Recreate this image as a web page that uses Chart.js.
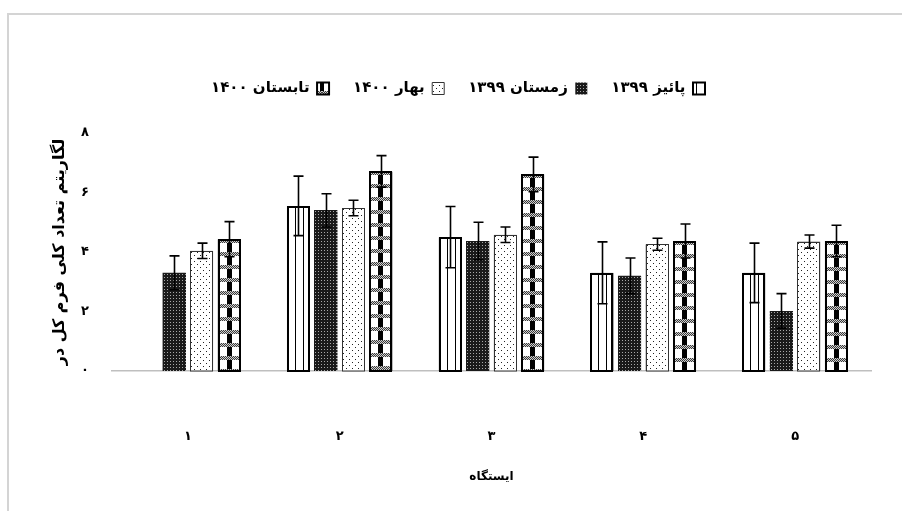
<!DOCTYPE html>
<html>
<head>
<meta charset="utf-8">
<script src="https://cdn.jsdelivr.net/npm/chart.js@4.4.1/dist/chart.umd.min.js"></script>
<style>
  body { margin: 0; background: #fff; }
  #wrap { position: relative; width: 902px; height: 511px; }
  #frame { position: absolute; left: 7px; top: 13px; right: 0; bottom: 0;
           border-left: 2px solid #d4d4d4; border-top: 2px solid #d4d4d4; }
  canvas { position: absolute; left: 0; top: 0; }
</style>
</head>
<body>
<div id="wrap">
  <div id="frame"></div>
  <canvas id="chart" width="902" height="511"></canvas>
</div>
<script>
// داده ها
const categories = ["۱", "۲", "۳", "۴", "۵"];
const seriesNames = ["پائیز ۱۳۹۹", "زمستان ۱۳۹۹", "بهار ۱۴۰۰", "تابستان ۱۴۰۰"];
const paiz = [null, 5.55, 4.5, 3.3, 3.3];
const paizErr = [0, 1.0, 1.03, 1.04, 1.0];
const zemestan = [3.3, 5.4, 4.37, 3.2, 2.02];
const zemestanErr = [0.57, 0.56, 0.63, 0.6, 0.58];
const bahar = [4.04, 5.48, 4.58, 4.26, 4.35];
const baharErr = [0.26, 0.26, 0.26, 0.2, 0.22];
const tabestan = [4.43, 6.71, 6.61, 4.37, 4.37];
const tabestanErr = [0.59, 0.53, 0.58, 0.57, 0.53];
const yTicks = ["۰", "۲", "۴", "۶", "۸"];

const FONT = "'DejaVu Sans', sans-serif";

// الگوها
function makePattern(w, h, draw) {
  const c = document.createElement("canvas");
  c.width = w; c.height = h;
  const g = c.getContext("2d");
  draw(g);
  return document.getElementById("chart").getContext("2d").createPattern(c, "repeat");
}

// پائیز: خطوط عمودی
const pPaiz = makePattern(8, 8, g => {
  g.fillStyle = "#fff"; g.fillRect(0, 0, 8, 8);
  g.fillStyle = "#000"; g.fillRect(0, 0, 1, 8);
});
// زمستان: تیره با نقطه های ریز
const pZemestan = makePattern(3, 3, g => {
  g.fillStyle = "#1a1a1a"; g.fillRect(0, 0, 3, 3);
  g.fillStyle = "#a8a8a8"; g.fillRect(1, 1, 1, 1);
});
// بهار: نقطه های پراکنده
const pBahar = makePattern(6, 6, g => {
  g.fillStyle = "#fff"; g.fillRect(0, 0, 6, 6);
  g.fillStyle = "#222"; g.fillRect(1, 1, 1, 1); g.fillRect(4, 4, 1, 1);
});
// تابستان: شطرنجی
const pTabestan = makePattern(23, 13, g => {
  g.fillStyle = "#fff"; g.fillRect(0, 0, 23, 13);
  for (let x = 0; x < 23; x++) {
    for (let y = 0; y < 4; y++) {
      g.fillStyle = (x + y) % 2 ? "#3a3a3a" : "#cfcfcf";
      g.fillRect(x, y, 1, 1);
    }
  }
  g.fillStyle = "#000"; g.fillRect(9, 4, 5, 9);
  g.fillRect(0, 4, 2, 9); g.fillRect(21, 4, 2, 9);
});

const errors = [paizErr, zemestanErr, baharErr, tabestanErr];
const patterns = [pPaiz, pZemestan, pBahar, pTabestan];

// پرکردن هر ستون با الگوی هم تراز با خود ستون
const barFill = {
  id: "barFill",
  afterDatasetDraw(chart, args) {
    const ctx = chart.ctx;
    const i = args.index;
    const ds = chart.data.datasets[i];
    args.meta.data.forEach((el, j) => {
      if (ds.data[j] == null) return;
      const left = Math.round(el.x - el.width / 2);
      const top = Math.round(el.y);
      const w = Math.round(el.width);
      const h = Math.round(el.base) - top;
      ctx.save();
      ctx.translate(left, top);
      ctx.fillStyle = patterns[i];
      ctx.fillRect(0, 0, w, h);
      if (ds.borderWidth > 0) {
        const b = ds.borderWidth;
        ctx.strokeStyle = ds.borderColor;
        ctx.lineWidth = b;
        ctx.strokeRect(b / 2, b / 2, w - b, h - b / 2);
      }
      ctx.restore();
    });
  }
};

// خطای معیار
const errorBars = {
  id: "errorBars",
  afterDatasetsDraw(chart) {
    const ctx = chart.ctx;
    const y = chart.scales.y;
    chart.data.datasets.forEach((ds, i) => {
      const meta = chart.getDatasetMeta(i);
      meta.data.forEach((el, j) => {
        const v = ds.data[j];
        if (v == null) return;
        const e = errors[i][j];
        const yTop = y.getPixelForValue(v + e);
        const yBot = y.getPixelForValue(v - e);
        const x = Math.round(el.x) + 0.5;
        ctx.save();
        ctx.strokeStyle = "#000";
        ctx.lineWidth = 1.6;
        ctx.beginPath();
        ctx.moveTo(x, yTop); ctx.lineTo(x, yBot);
        ctx.moveTo(x - 5, yTop); ctx.lineTo(x + 5, yTop);
        ctx.moveTo(x - 5, yBot); ctx.lineTo(x + 5, yBot);
        ctx.stroke();
        ctx.restore();
      });
    });
  }
};

// فاصله زیر راهنما و جابجایی آن
const legendGap = {
  id: "legendGap",
  beforeInit(chart) {
    const fit = chart.legend.fit;
    chart.legend.fit = function () {
      fit.bind(chart.legend)();
      this.height += 27;
    };
  },
  afterUpdate(chart) {
    const lg = chart.legend;
    if (!lg.legendHitBoxes || !lg.legendHitBoxes.length) return;
    const minLeft = Math.min(...lg.legendHitBoxes.map(b => b.left));
    const shift = 211 - minLeft;
    lg.left += shift;
    lg.right += shift;
    lg.adjustHitBoxes();
  }
};

const barChart = document.querySelector("#chart");

new Chart(barChart, {
  type: "bar",
  data: {
    labels: categories,
    datasets: [
      { label: seriesNames[0], data: paiz, backgroundColor: pPaiz, borderColor: "#000", borderWidth: 2 },
      { label: seriesNames[1], data: zemestan, backgroundColor: pZemestan, borderColor: "#1a1a1a", borderWidth: 0 },
      { label: seriesNames[2], data: bahar, backgroundColor: pBahar, borderColor: "#333", borderWidth: 1 },
      { label: seriesNames[3], data: tabestan, backgroundColor: pTabestan, borderColor: "#000", borderWidth: 2 },
    ],
  },
  options: {
    animation: false,
    responsive: false,
    devicePixelRatio: 1,
    categoryPercentage: 0.725,
    barPercentage: 0.84,
    layout: { padding: { top: 57, left: 40, right: 31, bottom: 12 } },
    plugins: {
      legend: {
        position: "top",
        rtl: true,
        labels: {
          boxWidth: 12,
          boxHeight: 12,
          padding: 24,
          color: "#000",
          font: { family: FONT, size: 15, weight: "bold" },
        },
      },
      tooltip: { enabled: false },
    },
    scales: {
      x: {
        grid: { display: false, drawTicks: false },
        border: { display: true, color: "#bfbfbf", width: 1.5 },
        ticks: { padding: 58, color: "#000", font: { family: FONT, size: 13, weight: "bold" } },
        title: {
          display: true,
          text: "ایستگاه",
          color: "#000",
          padding: { top: 25, bottom: 15 },
          font: { family: FONT, size: 12, weight: "bold" },
        },
        afterFit(scale) { scale.height = 128; },
      },
      y: {
        min: 0,
        max: 8,
        grid: { display: false, drawTicks: false },
        border: { display: false },
        ticks: {
          stepSize: 2,
          padding: 23,
          color: "#000",
          font: { family: FONT, size: 13, weight: "bold" },
          callback: (v) => yTicks[v / 2],
        },
        title: {
          display: true,
          text: "لگاریتم تعداد کلی فرم کل در",
          color: "#000",
          padding: { top: 10, bottom: 10 },
          font: { family: FONT, size: 16, weight: "bold" },
        },
        afterFit(scale) { scale.width = 72; },
      },
    },
  },
  plugins: [barFill, errorBars, legendGap],
});
</script>
</body>
</html>
